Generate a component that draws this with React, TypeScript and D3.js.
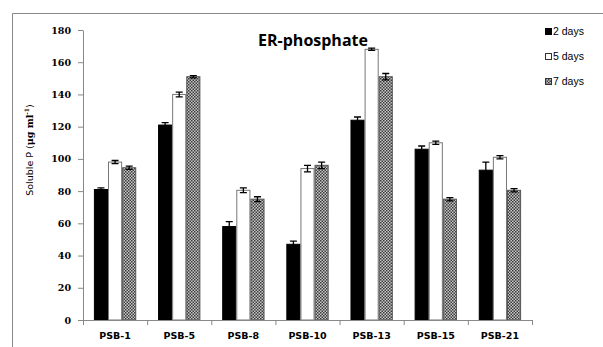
import { useRef, useEffect } from 'react';
import * as d3 from 'd3';

const strains = ['PSB-1', 'PSB-5', 'PSB-8', 'PSB-10', 'PSB-13', 'PSB-15', 'PSB-21'];
const seriesNames = ['2 days', '5 days', '7 days'];
const day2 = [81, 121, 58, 47, 124, 106, 93];
const day5 = [98, 140, 80.5, 94, 168, 110, 101];
const day7 = [94.5, 151, 75, 96, 151, 75, 80.5];
const err2 = [1, 1.5, 3, 2, 2, 2, 5];
const err5 = [1, 1.5, 1.5, 2, 0.7, 1, 1];
const err7 = [1, 0.7, 1.5, 2, 2, 1, 1];
const yTicks = [0, 20, 40, 60, 80, 100, 120, 140, 160, 180];

export default function App() {
  const svgRef = useRef<SVGSVGElement>(null);

  useEffect(() => {
    if (!svgRef.current) return;
    const svg = d3.select(svgRef.current);
    svg.selectAll('*').remove();

    const width = 603;
    const height = 347;
    const margin = { top: 30, right: 71, bottom: 27, left: 83 };
    const innerWidth = width - margin.left - margin.right;
    const innerHeight = height - margin.top - margin.bottom;

    const values = [day2, day5, day7];
    const errors = [err2, err5, err7];

    const defs = svg.append('defs');
    const pat = defs.append('pattern')
      .attr('id', 'checker')
      .attr('width', 3)
      .attr('height', 3)
      .attr('patternUnits', 'userSpaceOnUse');
    pat.append('rect').attr('width', 3).attr('height', 3).attr('fill', '#c8c8c8');
    pat.append('rect').attr('x', 0).attr('y', 0).attr('width', 1.5).attr('height', 1.5).attr('fill', '#3a3a3a');
    pat.append('rect').attr('x', 1.5).attr('y', 1.5).attr('width', 1.5).attr('height', 1.5).attr('fill', '#3a3a3a');

    svg.append('rect').attr('width', width).attr('height', height).attr('fill', '#fff');

    // frame
    svg.append('path')
      .attr('d', `M12.5,${height} V13.5 H${width}`)
      .attr('fill', 'none')
      .attr('stroke', '#888')
      .attr('stroke-width', 1);

    const x0 = d3.scaleBand().domain(strains).range([0, innerWidth]).paddingInner(0.34).paddingOuter(0.17);
    const x1 = d3.scaleBand().domain(seriesNames).range([0, x0.bandwidth()]);
    const y = d3.scaleLinear().domain([0, 180]).range([innerHeight, 0]);

    const g = svg.append('g').attr('transform', `translate(${margin.left},${margin.top})`);

    const fills = ['#000', '#fff', 'url(#checker)'];
    const strokes = ['#000', '#777', '#555'];

    strains.forEach((s, i) => {
      seriesNames.forEach((name, k) => {
        const v = values[k][i];
        const e = errors[k][i];
        const bx = (x0(s) ?? 0) + (x1(name) ?? 0);
        const bw = x1.bandwidth();
        g.append('rect')
          .attr('x', bx + 0.5)
          .attr('y', y(v))
          .attr('width', bw - 1)
          .attr('height', innerHeight - y(v))
          .attr('fill', fills[k])
          .attr('stroke', strokes[k])
          .attr('stroke-width', 1);
        const cx = bx + bw / 2;
        g.append('path')
          .attr('d', `M${cx},${y(v + e)}V${y(v - e)}M${cx - 3.5},${y(v + e)}H${cx + 3.5}M${cx - 3.5},${y(v - e)}H${cx + 3.5}`)
          .attr('stroke', '#000')
          .attr('stroke-width', 1.3)
          .attr('fill', 'none');
      });
    });

    // y axis
    const yAxis = g.append('g')
      .call(d3.axisLeft(y).tickValues(yTicks).tickSize(5).tickPadding(7).tickSizeOuter(0));
    yAxis.select('.domain').attr('stroke', '#888');
    yAxis.selectAll('line').attr('stroke', '#888');
    yAxis.selectAll('text')
      .attr('font-family', 'DejaVu Serif, serif')
      .attr('font-weight', 'bold')
      .attr('font-size', 9.5)
      .attr('fill', '#000');

    // x axis
    const xAxis = g.append('g')
      .attr('transform', `translate(0,${innerHeight})`)
      .call(d3.axisBottom(x0).tickSize(0).tickPadding(12));
    xAxis.select('.domain').attr('stroke', '#888');
    xAxis.selectAll('text')
      .attr('font-family', 'DejaVu Sans, sans-serif')
      .attr('font-weight', 'bold')
      .attr('font-size', 9.5)
      .attr('fill', '#000');
    const step = x0.step();
    d3.range(strains.length + 1).forEach(i => {
      g.append('line')
        .attr('x1', i * step + 0.5)
        .attr('x2', i * step + 0.5)
        .attr('y1', innerHeight)
        .attr('y2', innerHeight + 5)
        .attr('stroke', '#888');
    });

    // title
    svg.append('text')
      .attr('x', 313)
      .attr('y', 46)
      .attr('text-anchor', 'middle')
      .attr('font-family', 'Open Sans, sans-serif')
      .attr('font-weight', 'bold')
      .attr('font-size', 16)
      .attr('fill', '#000')
      .text('ER-phosphate');

    // y label
    const yl = svg.append('text')
      .attr('transform', 'translate(33,150) rotate(-90)')
      .attr('text-anchor', 'middle')
      .attr('font-family', 'DejaVu Sans, sans-serif')
      .attr('font-size', 9.5)
      .attr('fill', '#000');
    yl.append('tspan').text('Soluble P (');
    yl.append('tspan').attr('font-family', 'DejaVu Serif, serif').attr('font-weight', 'bold').text('μg ml');
    yl.append('tspan').attr('font-size', 6).attr('dy', -4).attr('font-family', 'DejaVu Serif, serif').attr('font-weight', 'bold').text('-1');
    yl.append('tspan').attr('dy', 4).text(')');

    // legend
    const legend = svg.append('g').attr('transform', 'translate(545,35)');
    seriesNames.forEach((name, k) => {
      const lg = legend.append('g').attr('transform', `translate(0,${k * 25})`);
      lg.append('rect')
        .attr('x', 0.5).attr('y', -6.5)
        .attr('width', 6).attr('height', 6)
        .attr('fill', fills[k])
        .attr('stroke', k === 0 ? '#000' : '#333');
      lg.append('text')
        .attr('x', 8)
        .attr('y', 0)
        .attr('font-family', 'Liberation Sans, sans-serif')
        .attr('font-size', 10.5)
        .attr('fill', '#000')
        .text(name);
    });
  }, []);

  return (
    <svg ref={svgRef} width={603} height={347} style={{ position: 'absolute', left: 0, top: 0, display: 'block' }} />
  );
}
